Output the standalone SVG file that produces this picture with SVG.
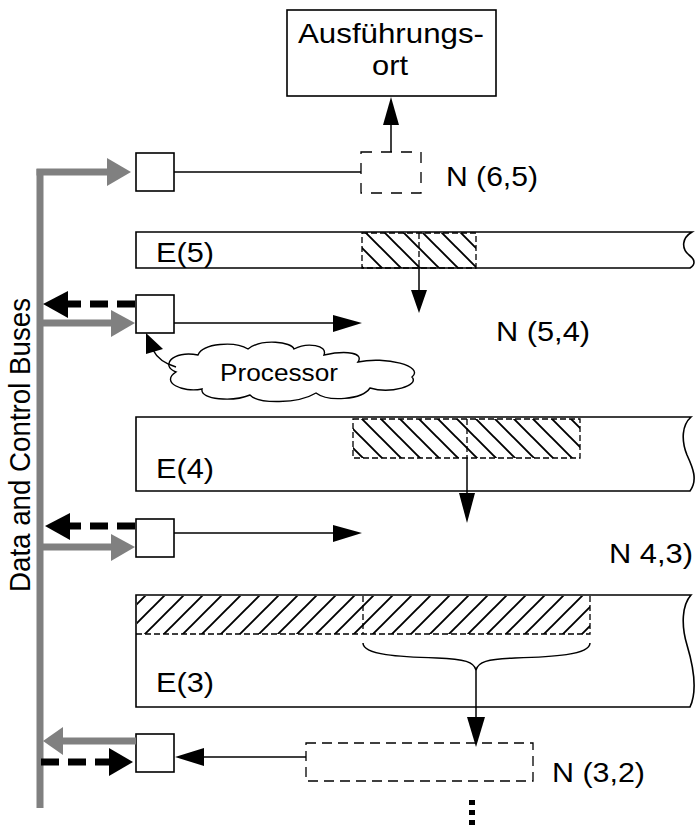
<svg xmlns="http://www.w3.org/2000/svg" width="697" height="826" viewBox="0 0 697 826">
<style>
.t{font-family:"Liberation Sans",Arial,sans-serif;font-size:28px;fill:#000}
.box{fill:#fff;stroke:#000;stroke-width:1.6}
.bar{fill:#fff;stroke:#000;stroke-width:1.6}
.ln{stroke:#000;stroke-width:1.5;fill:none}
.dsh{stroke:#000;stroke-width:1.3;fill:none;stroke-dasharray:6,3}
.gray{stroke:#808080;stroke-width:7;fill:none}
.grayh{fill:#808080}
.bk{fill:#000}
.bdash{stroke:#000;stroke-width:7;fill:none;stroke-dasharray:18,9}
</style>
<defs>
<pattern id="hb" patternUnits="userSpaceOnUse" width="19" height="19"><path d="M-2,-2 L21,21 M-2,17 L2,21 M17,-2 L21,2" stroke="#000" stroke-width="1.9"/></pattern>
<pattern id="hf" patternUnits="userSpaceOnUse" width="19" height="19"><path d="M-2,21 L21,-2 M-2,2 L2,-2 M17,21 L21,17" stroke="#000" stroke-width="1.9"/></pattern>
</defs>

<g id="bus">
<path class="gray" d="M40,169 V808"/>
<text class="t" text-anchor="middle" textLength="294" lengthAdjust="spacingAndGlyphs" transform="translate(30,445) scale(1.15,1) rotate(-90)" style="font-size:26px">Data and Control Buses</text>
</g>

<g id="ausfuehrungsort">
<rect class="box" x="287" y="10" width="209" height="86"/>
<text class="t" x="298" y="43" textLength="186" lengthAdjust="spacingAndGlyphs">Ausführungs-</text>
<text class="t" x="372" y="75" textLength="36" lengthAdjust="spacingAndGlyphs">ort</text>
</g>

<g id="box1"><rect class="box" x="136" y="153" width="38" height="38"/></g>
<g id="n65">
<rect x="361" y="152" width="60" height="41" fill="#fff" stroke="#000" stroke-width="1.3" stroke-dasharray="11,9"/>
<text class="t" x="446" y="186" textLength="92" lengthAdjust="spacingAndGlyphs">N (6,5)</text>
</g>

<g id="e5">
<path class="bar" d="M136,232 H692 C682,238 681,248 689,255 C696,260 695,265 690,268 H136 Z"/>
<rect x="362" y="233" width="114" height="35" fill="url(#hb)"/>
<rect class="dsh" x="362" y="233" width="114" height="35"/>
<path class="dsh" d="M419,233 V268"/>
<text class="t" x="156" y="262" textLength="58" lengthAdjust="spacingAndGlyphs">E(5)</text>
</g>

<g id="box2"><rect class="box" x="136" y="295" width="38" height="38"/></g>
<g id="n54"><text class="t" x="496" y="341" textLength="94" lengthAdjust="spacingAndGlyphs">N (5,4)</text></g>

<g id="processor">
<path fill="#fff" stroke="#000" stroke-width="1.4" d="M176,372 C160,366 172,350 198,355 C203,343 235,341 248,349 C262,338 292,342 294,349 C307,342 328,345 324,355 C347,350 364,353 358,362 C385,356 425,366 412,377 C420,386 390,394 370,388 C362,400 328,402 316,393 C298,404 258,404 250,395 C233,402 200,400 202,389 C182,393 160,382 176,372 Z"/>
<text class="t" style="font-size:24px" x="220" y="381" textLength="118" lengthAdjust="spacingAndGlyphs">Processor</text>
</g>

<g id="e4">
<path class="bar" d="M136,417 H691 C682,425 681,440 687,455 C693,468 698,480 690,491 H136 Z"/>
<rect x="353" y="419" width="227" height="39" fill="url(#hb)"/>
<rect class="dsh" x="353" y="419" width="227" height="39"/>
<path class="dsh" d="M467,419 V458"/>
<text class="t" x="156" y="478" textLength="58" lengthAdjust="spacingAndGlyphs">E(4)</text>
</g>

<g id="box3"><rect class="box" x="136" y="519" width="38" height="38"/></g>
<g id="n43"><text class="t" x="609" y="563" textLength="84" lengthAdjust="spacingAndGlyphs">N 4,3)</text></g>

<g id="e3">
<path class="bar" d="M136,595 H691 C682,605 681,625 687,645 C693,665 698,690 690,707 H136 Z"/>
<rect x="137" y="596" width="453" height="38" fill="url(#hf)"/>
<path class="dsh" d="M136,634 H590 V596"/>
<path class="dsh" d="M363,596 V634"/>
<text class="t" x="156" y="692" textLength="58" lengthAdjust="spacingAndGlyphs">E(3)</text>
</g>

<g id="box4"><rect class="box" x="136" y="734" width="38" height="38"/></g>
<g id="n32">
<rect x="306" y="743" width="227" height="38" fill="#fff" stroke="#000" stroke-width="1.3" stroke-dasharray="10,6"/>
<text class="t" x="552" y="782" textLength="93" lengthAdjust="spacingAndGlyphs">N (3,2)</text>
</g>

<g id="dots">
<rect class="bk" x="469" y="800" width="6" height="5"/>
<rect class="bk" x="469" y="810" width="6" height="5"/>
<rect class="bk" x="469" y="820" width="6" height="5"/>
</g>

<g id="connectors">
<path class="gray" d="M36.5,172 H108"/>
<polygon class="grayh" points="107,158 131,172 107,186"/>
<path class="gray" d="M40,323 H112"/>
<polygon class="grayh" points="111,310 135,323 111,337"/>
<path class="gray" d="M40,547 H112"/>
<polygon class="grayh" points="111,534 135,547 111,561"/>
<path class="gray" d="M136,741 H62"/>
<polygon class="grayh" points="63,727 43,741 63,755"/>
<path class="bdash" d="M135,304 H67"/>
<polygon class="bk" points="68,291 43,304 68,318"/>
<path class="bdash" d="M135,526 H69"/>
<polygon class="bk" points="70,513 45,526 70,540"/>
<path class="bdash" d="M41,762 H110"/>
<polygon class="bk" points="109,748 133,762 109,776"/>
<path class="ln" d="M174,172 H361"/>
<path class="ln" d="M174,323 H334"/>
<polygon class="bk" points="333,315 362,323 333,332"/>
<path class="ln" d="M174,533 H334"/>
<polygon class="bk" points="333,525 362,533 333,542"/>
<path class="ln" d="M306,757 H203"/>
<polygon class="bk" points="204,748 175,757 204,766"/>
<path class="ln" d="M391,152 V124"/>
<polygon class="bk" points="383,125 391,97 399,125"/>
<path class="ln" d="M419,268 V291"/>
<polygon class="bk" points="411,290 427,290 419,313"/>
<path class="ln" d="M467,458 V494"/>
<polygon class="bk" points="459,493 475,493 467,523"/>
<path class="ln" d="M363,643 C363,655 400,657 437,658 C465,659 474,662 476,670 C478,662 487,659 515,658 C552,657 590,655 590,643"/>
<path class="ln" d="M476,670 V718"/>
<polygon class="bk" points="467,717 485,717 476,747"/>
<path class="ln" d="M176,367 C166,364 157,358 153,350"/>
<polygon class="bk" points="146,333 146,354 163,349"/>
</g>
</svg>
